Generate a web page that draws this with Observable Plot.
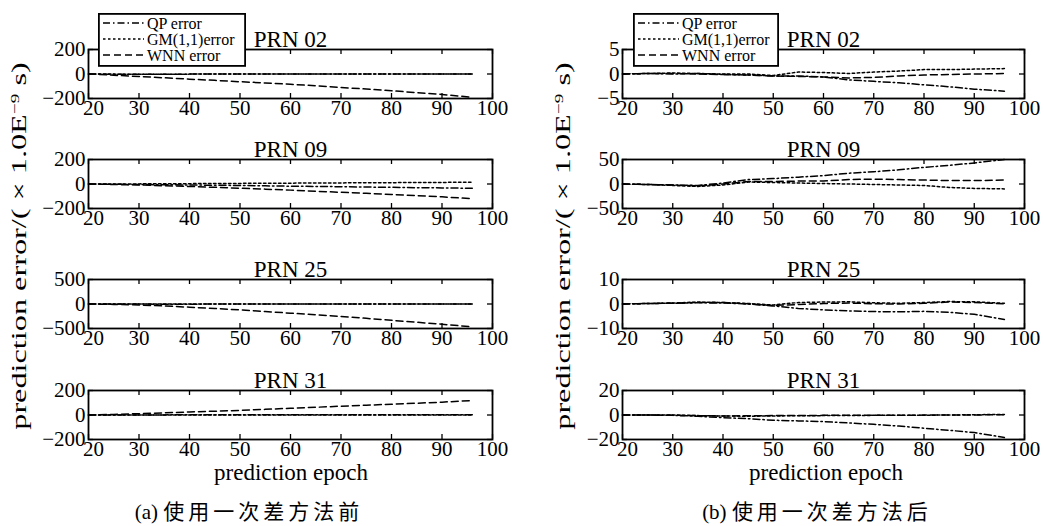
<!DOCTYPE html>
<html><head><meta charset="utf-8">
<script src="https://cdn.jsdelivr.net/npm/d3@7"></script>
<script src="https://cdn.jsdelivr.net/npm/@observablehq/plot@0.6"></script>
<style>
body{margin:0;background:#fff;}
#root{position:relative;width:1044px;height:526px;overflow:hidden;font-family:"Liberation Serif","Noto Sans CJK SC",serif;color:#000;}
.lbl{position:absolute;white-space:nowrap;transform:translate(-50%,-50%);font-family:"Liberation Serif","Noto Sans CJK SC",serif;line-height:1;}
.cjk{letter-spacing:4px;font-family:"Noto Sans CJK SC",sans-serif;}
svg text{font-family:"Liberation Serif","Times New Roman",serif;}
</style></head><body><div id="root"></div>
<script>
// ---- data ----
const epochs = [20,25,30,35,40,45,50,55,60,65,70,75,80,85,90,96];
const xTicks = [20,30,40,50,60,70,80,90,100];

// (a) before first-difference
const a02_qp  = [0,-2,-3,-2,-1,0,0,0,0,0,0,0,0,0,0,0];
const a02_gm  = [0,-1,-2,-2,-1,0,1,1,1,1,1,1,1,1,1,1];
const a02_wnn = [0,-10,-20,-31,-42,-52,-63,-73,-84,-96,-110,-123,-137,-152,-167,-190];
const a09_qp  = [0,-2,-4,-6,-8,-10,-12,-15,-18,-20,-22,-25,-27,-30,-32,-35];
const a09_gm  = [0,0,1,2,3,4,5,6,7,8,9,10,11,12,13,15];
const a09_wnn = [0,-4,-8,-14,-20,-27,-35,-42,-50,-59,-68,-76,-85,-95,-105,-120];
const a25_qp  = [0,0,-2,-3,-3,-2,0,0,0,0,0,0,0,0,0,0];
const a25_gm  = [0,0,-1,-2,-2,-1,0,0,0,0,0,0,0,0,0,0];
const a25_wnn = [0,-8,-20,-40,-65,-92,-120,-153,-187,-220,-253,-293,-333,-373,-413,-465];
const a31_qp  = [0,0,1,1,2,2,2,2,2,2,2,2,3,3,3,3];
const a31_gm  = [0,0,0,-1,-1,-1,-1,-1,-1,-1,-1,-1,-1,0,0,0];
const a31_wnn = [0,5,11,18,25,31,38,46,55,63,72,80,88,96,105,118];

// (b) after first-difference
const b02_qp  = [0,0.1,0,0.1,-0.1,-0.2,-0.4,-0.4,-0.6,-1.2,-1.5,-1.8,-2.2,-2.6,-3.1,-3.5];
const b02_gm  = [0,0.1,0.2,0.1,0,0,-0.3,0.4,0.3,0.1,0.4,0.6,0.9,0.9,1.0,1.1];
const b02_wnn = [0,0.1,0.1,0,-0.1,-0.2,-0.4,-0.5,-0.6,-0.8,-0.7,-0.4,-0.2,-0.1,0,0.1];
const b09_qp  = [0,-1,-2,-3,2,9,11,14,17,22,25,29,34,38,43,50];
const b09_gm  = [0,-1,-3,-5,-2,4,3,2,1,0,-1,-2,-3,-7,-9,-10];
const b09_wnn = [0,-1,-2,-4,0,5,5,6,6,9,10,9,8,7,7,8];
const b25_qp  = [0,0.2,0.3,0.5,0.4,0,-0.8,-1.8,-2.4,-2.8,-3.1,-3.2,-3.0,-3.4,-4.2,-6.3];
const b25_gm  = [0,0.2,0.4,0.8,0.6,0.2,-0.4,0.6,0.8,0.9,0.5,0.3,0.6,1.0,0.9,0.3];
const b25_wnn = [0,0.2,0.3,0.6,0.6,0.1,-0.6,-0.2,0.2,0.4,0.1,0,0.3,0.8,0.6,0.1];
const b31_qp  = [0,0,-0.3,-1,-2.2,-3,-4.3,-4.8,-5.4,-6.5,-7.6,-9,-10.8,-12.5,-14.3,-18.4];
const b31_gm  = [0,0,0,-0.5,-0.8,-1,-0.8,-0.6,-0.5,-0.4,-0.3,-0.3,-0.2,0,0.2,0.5];
const b31_wnn = [0,0,-0.2,-0.5,-0.8,-0.6,-0.5,-0.4,-0.3,-0.3,-0.2,-0.2,-0.1,0,0,0.3];

const titles = ["PRN 02","PRN 09","PRN 25","PRN 31"];
const yTicksA = [[-200,0,200],[-200,0,200],[-500,0,500],[-200,0,200]];
const yTicksB = [[-5,0,5],[-50,0,50],[-10,0,10],[-20,0,20]];
const legendLabels = ["QP error","GM(1,1)error","WNN error"];
const yLabelText = "prediction error/( × 1.0E<sup style='font-size:0.6em;vertical-align:0.55em'>−9</sup> s)";
const xLabelText = "prediction epoch";
const captionPrefix = ["(a) ","(b) "];
const captionText = ["使用一次差方法前","使用一次差方法后"];

// ---- layout ----
const FONT = '"Liberation Serif","Times New Roman",serif';
const dashes = {QP:"7,3,1.5,3", GM:"2.5,2.5", WNN:"7,4"};
const frameTops = [49,159,279,390];
const root = document.getElementById("root");
const fmt = d => d < 0 ? "\u2212" + Math.abs(d) : String(d);

function panel(col, row, yTicks, qp, gm, wnn) {
  const colLeft = col === 0 ? 0 : 520;
  const width = col === 0 ? 520 : 524;
  const mL = col === 0 ? 88 : 102, mR = col === 0 ? 28 : 20;
  const mT = 34, innerH = 49, mB = 30;
  const innerW = width - mL - mR;
  const series = [["QP",qp],["GM",gm],["WNN",wnn]];
  const lines = series.map(([k, vals]) =>
    Plot.line(epochs.map((e,i)=>({x:e,y:vals[i]})), {x:"x", y:"y", stroke:"black", strokeWidth:1.5, strokeDasharray:dashes[k]}));
  const svg = Plot.plot({
    width, height: mT+innerH+mB, marginLeft: mL, marginRight: mR, marginTop: mT, marginBottom: mB,
    style: {fontFamily: FONT, background: "transparent", color: "black", overflow: "visible"},
    x: {domain: [20,100]}, y: {domain: [yTicks[0], yTicks[yTicks.length-1]]},
    marks: [
      ...lines,
      Plot.tickX(xTicks, {x: d=>d, insetBottom: innerH-5, stroke:"black", strokeWidth:1.3}),
      Plot.tickX(xTicks, {x: d=>d, insetTop: innerH-5, stroke:"black", strokeWidth:1.3}),
      Plot.tickY(yTicks, {y: d=>d, insetRight: innerW-5, stroke:"black", strokeWidth:1.3}),
      Plot.tickY(yTicks, {y: d=>d, insetLeft: innerW-5, stroke:"black", strokeWidth:1.3}),
      Plot.frame({stroke:"black", strokeWidth:1.8}),
      Plot.axisX({ticks: xTicks.slice(1), tickSize:0, tickPadding:2, fontSize:21, tickFormat: fmt, label: null, fontFamily: FONT}),
      Plot.axisX({ticks: xTicks.slice(0,1), tickSize:0, tickPadding:2, fontSize:21, tickFormat: fmt, label: null, fontFamily: FONT, dx: 5}),
      Plot.axisY({ticks: yTicks, tickSize:0, tickPadding:3, fontSize:21, tickFormat: fmt, label: null, fontFamily: FONT}),
      Plot.text([titles[row]], {text: d=>d, frameAnchor:"top", lineAnchor:"bottom", dy:-3, fontSize:23, fontFamily: FONT})
    ]
  });
  svg.style.position = "absolute";
  svg.style.left = colLeft + "px";
  svg.style.top = (frameTops[row] - mT) + "px";
  root.appendChild(svg);
}

const A = [[a02_qp,a02_gm,a02_wnn],[a09_qp,a09_gm,a09_wnn],[a25_qp,a25_gm,a25_wnn],[a31_qp,a31_gm,a31_wnn]];
const B = [[b02_qp,b02_gm,b02_wnn],[b09_qp,b09_gm,b09_wnn],[b25_qp,b25_gm,b25_wnn],[b31_qp,b31_gm,b31_wnn]];
for (let r = 0; r < 4; r++) {
  panel(0, r, yTicksA[r], ...A[r]);
  panel(1, r, yTicksB[r], ...B[r]);
}

function legend(left, top, w) {
  const div = document.createElement("div");
  div.style.cssText = `position:absolute;left:${left}px;top:${top}px;`;
  const keys = ["QP","GM","WNN"];
  const rows = keys.map((k,i)=>{
    const y = 10 + i*16;
    return `<line x1="5" x2="46" y1="${y}" y2="${y}" stroke="black" stroke-width="1.5" stroke-dasharray="${dashes[k]}"/>
            <text x="49" y="${y}" dy="0.35em" font-size="16" font-family='${FONT}'>${legendLabels[i]}</text>`;
  }).join("");
  div.innerHTML = `<svg width="${w}" height="54" style="display:block;overflow:visible">
    <rect x="0.9" y="0.9" width="${w-1.8}" height="52" fill="white" stroke="black" stroke-width="1.8"/>${rows}</svg>`;
  root.appendChild(div);
}
legend(98, 13, 148);
legend(633, 13, 146);

function label(html, x, y, size, extra="") {
  const d = document.createElement("div");
  d.className = "lbl";
  d.style.left = x + "px"; d.style.top = y + "px"; d.style.fontSize = size + "px";
  d.style.cssText += extra;
  d.innerHTML = html;
  root.appendChild(d);
  return d;
}
function vlabel(x, y, len) {
  const d = label(yLabelText, x, y, 22);
  const w = d.offsetWidth;
  d.style.transform = `translate(-50%,-50%) rotate(-90deg) scaleX(${len / w})`;
}
vlabel(19, 246, 368);
vlabel(563, 246, 368);
label(xLabelText, 291, 472, 23);
label(xLabelText, 826, 472, 23);
label(captionPrefix[0] + `<span class="cjk">${captionText[0]}</span>`, 249, 511, 21);
label(captionPrefix[1] + `<span class="cjk">${captionText[1]}</span>`, 817, 511, 21);
</script></body></html>
